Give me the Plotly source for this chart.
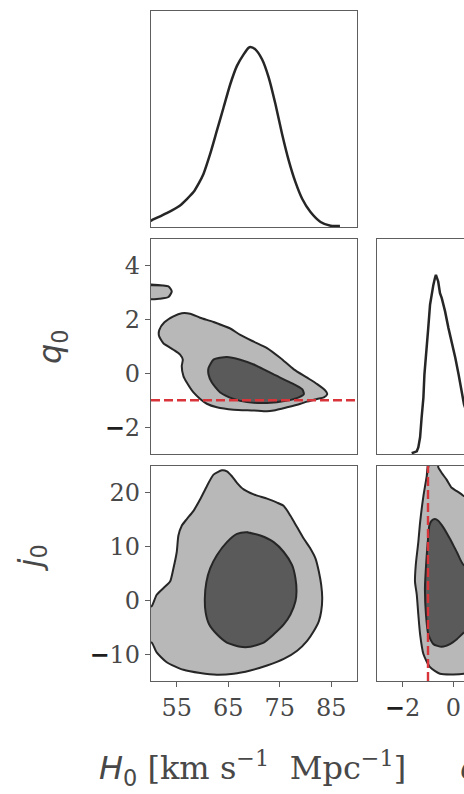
import plotly.graph_objects as go

W, H = 464, 794

# ---- reference values ----
q0_ref = -1.0

# ---- 1-D marginal of H0 (relative density) ----
h0_grid = [49.9, 50.13, 53.05, 55.65, 58.25, 59.22, 60.19, 61.49, 62.79, 64.09, 65.39,
           66.69, 67.99, 68.96, 69.29, 70.26, 71.56, 72.86, 74.16, 75.45, 76.75, 78.05,
           79.35, 80.97, 82.92, 84.87, 86.69]
h0_pdf = [0.033, 0.037, 0.077, 0.120, 0.194, 0.240, 0.295, 0.406, 0.535, 0.664, 0.793,
          0.895, 0.959, 0.996, 1.0, 0.987, 0.932, 0.830, 0.683, 0.517, 0.369, 0.249,
          0.157, 0.083, 0.028, 0.007, 0.006]

# ---- 1-D marginal of q0 (relative density) ----
q0_grid = [-1.64, -1.44, -1.38, -1.31, -1.25, -1.18, -1.14, -1.05, -0.99, -0.92, -0.86,
           -0.79, -0.73, -0.69, -0.60, -0.53, -0.46, -0.33, -0.20, -0.07, 0.07, 0.20,
           0.32, 0.41, 0.60]
q0_pdf = [0.004, 0.015, 0.037, 0.093, 0.204, 0.315, 0.444, 0.574, 0.704, 0.833, 0.889,
          0.944, 0.981, 1.0, 0.963, 0.898, 0.870, 0.796, 0.704, 0.630, 0.537, 0.444,
          0.352, 0.278, 0.20]

# ---- H0 - q0 credible regions ----
hq_outer_h0 = [62.14, 65.39, 67.34, 69.94, 72.53, 75.13,
               77.73, 80.32, 82.27, 83.90, 84.22, 83.57, 82.27, 80.32, 79.03, 76.43, 73.83,
               72.53, 69.94, 66.04, 62.79, 60.84, 59.55, 58.25, 56.95, 56.30, 55.97, 56.17,
               55.65, 54.35, 52.40, 51.55, 51.62, 52.60, 54.35, 55.97, 57.60, 59.55]
hq_outer_q0 = [1.91, 1.67, 1.43, 1.18, 0.94, 0.57,
               0.15, -0.16, -0.40, -0.65, -0.77, -0.89, -0.95, -1.05, -1.13, -1.26, -1.38,
               -1.41, -1.38, -1.35, -1.26, -1.13, -0.95, -0.71, -0.34, -0.10, 0.27, 0.51,
               0.70, 0.88, 1.12, 1.40, 1.62, 1.90, 2.12, 2.24, 2.22, 2.07]
hq_island_h0 = [49.0, 53.38, 54.03, 53.38, 51.75, 49.0]
hq_island_q0 = [3.28, 3.24, 3.05, 2.84, 2.78, 2.78]
hq_inner_h0 = [69.94, 73.83, 77.08, 79.35, 79.68, 78.70, 76.43,
               72.53, 68.64, 66.04, 63.44, 61.82, 61.17, 61.17, 62.14, 64.74, 67.34]
hq_inner_q0 = [0.33, -0.04, -0.34, -0.59, -0.77, -0.89, -1.01,
               -1.10, -1.07, -0.95, -0.71, -0.34, -0.04, 0.20, 0.51, 0.61, 0.51]

# ---- H0 - j0 credible regions ----
hj_outer_h0 = [49.7, 50.13, 51.10, 52.40, 53.70, 54.35, 55.00, 55.32, 55.97, 56.95, 58.25,
               59.55, 60.84, 62.14, 63.77, 64.74, 65.71, 66.69, 67.99, 69.94, 72.53, 74.48,
               75.78, 77.08, 78.38, 79.68, 80.97, 81.95, 82.60, 83.05, 83.25, 83.05, 82.60,
               81.62, 80.32, 78.38, 75.78, 72.53, 69.29, 66.04, 62.79, 59.55, 56.30, 53.05,
               51.10, 50.13, 49.7]
hj_outer_j0 = [-1.10, -1.10, 1.04, 2.27, 3.49, 5.94, 9.00, 12.06, 13.90, 15.13, 16.66,
               18.80, 21.25, 23.39, 24.19, 24.00, 23.09, 21.86, 20.64, 19.72, 18.92, 18.19,
               17.57, 15.74, 13.59, 11.45, 9.61, 7.78, 5.33, 2.88, 0.43, -2.02, -3.86,
               -5.70, -7.53, -9.37, -10.90, -12.12, -13.04, -13.66, -13.84, -13.53, -12.92, -11.51,
               -9.68, -7.84, -7.84]
hj_inner_h0 = [68.64, 71.23, 73.83, 75.78, 77.40,
               78.05, 78.25, 78.05, 77.08, 75.78, 73.83, 71.88, 69.29, 67.34, 64.74, 62.79,
               61.25, 60.60, 60.45, 60.75, 61.49, 62.79, 64.74, 66.69]
hj_inner_j0 = [12.68, 12.06, 10.84, 9.00, 6.55,
               4.10, 1.65, -0.18, -2.63, -4.47, -6.31, -7.84, -8.63, -8.63, -7.84, -6.31,
               -4.40, -2.20, 0.30, 3.40, 5.94, 8.39, 10.84, 12.37]

# ---- q0 - j0 credible regions ----
qj_outer_q0 = [-0.95, -1.05, -1.18, -1.31, -1.38, -1.44, -1.48, -1.51, -1.44, -1.38, -1.31,
               -1.18, -0.92, -0.53, 0.00, 0.41, 1.00, 1.00, 0.41, 0.32, 0.13, -0.07,
               -0.27, -0.46, -0.60, -0.58]
qj_outer_j0 = [26.0, 23.09, 19.41, 14.51, 10.84, 8.39, 6.55, 3.49, 1.04, -2.63, -6.31,
               -9.98, -12.43, -13.66, -13.78, -13.66, -13.0, 19.0, 19.41, 19.72, 20.33, 20.94,
               22.47, 23.70, 24.80, 26.0]
qj_inner_q0 = [1.00, 1.00, 0.41, 0.13, -0.14, -0.40, -0.60, -0.73, -0.86, -0.95, -0.99,
               -1.05, -1.12, -1.08, -0.99, -0.79, -0.46, -0.14, 0.13, 0.41]
qj_inner_j0 = [-5.0, 8.0, 6.55, 9.00, 11.45, 13.59, 14.82, 15.13, 14.82, 13.90, 12.06,
               8.39, 2.27, -2.63, -6.31, -8.14, -8.63, -8.14, -7.23, -6.00]

# ---- axes ticks ----
h0_ticks = [55, 65, 75, 85]
q0_ticks = [-2, 0, 2, 4]
q0_col_ticks = [-2, 0]
j0_ticks = [-10, 0, 10, 20]

# ---- style ----
LIGHT = "#b8b8b8"
DARK = "#5a5a5a"
EDGE = "#262626"
FRAME = "#5e5e5e"
TXT = "#484848"
RED = "#d8343a"
SERIF = "DejaVu Serif"
SANS = "DejaVu Sans"


def tick_label(v):
    if v < 0:
        return '<b><span style="color:#1e1e1e">\u2212</span></b>' + str(abs(v))
    return str(v)


def px_x(p):
    return p / W


def px_y(p):
    return 1 - p / H


fig = go.Figure()


def region(xs, ys, color, xa, ya):
    # wrap the outline past its first vertex so the spline closes smoothly
    xs = list(xs) + list(xs[:2])
    ys = list(ys) + list(ys[:2])
    fig.add_trace(go.Scatter(
        x=xs, y=ys, xaxis=xa, yaxis=ya, mode="lines", fill="toself",
        fillcolor=color, line=dict(color=EDGE, width=2, shape="spline", smoothing=0.6),
        hoverinfo="skip", showlegend=False))


# top marginal H0
fig.add_trace(go.Scatter(x=h0_grid, y=h0_pdf, xaxis="x", yaxis="y", mode="lines",
                         line=dict(color=EDGE, width=2.5, shape="spline", smoothing=0.6),
                         showlegend=False, hoverinfo="skip"))
# H0 - q0
region(hq_outer_h0, hq_outer_q0, LIGHT, "x2", "y2")
region(hq_island_h0, hq_island_q0, LIGHT, "x2", "y2")
region(hq_inner_h0, hq_inner_q0, DARK, "x2", "y2")
# H0 - j0
region(hj_outer_h0, hj_outer_j0, LIGHT, "x3", "y3")
region(hj_inner_h0, hj_inner_j0, DARK, "x3", "y3")
# q0 marginal
fig.add_trace(go.Scatter(x=q0_grid, y=q0_pdf, xaxis="x4", yaxis="y4", mode="lines",
                         line=dict(color=EDGE, width=2.5),
                         showlegend=False, hoverinfo="skip"))
# q0 - j0
region(qj_outer_q0, qj_outer_j0, LIGHT, "x5", "y5")
region(qj_inner_q0, qj_inner_j0, DARK, "x5", "y5")

col1 = [px_x(151), px_x(357)]
col2 = [px_x(377), 1.0]
row1 = [px_y(227), px_y(11)]
row2 = [px_y(454), px_y(239)]
row3 = [px_y(681), px_y(466)]

col2_range = [-3, -3 + 87 / 25.5]

base = dict(showgrid=False, zeroline=False, showline=True, linecolor=FRAME, linewidth=1.2,
            ticks="", showticklabels=False,
            tickfont=dict(family=SERIF, size=24, color=TXT), tickcolor=FRAME,
            ticklen=5, tickwidth=1)

fig.update_layout(
    width=W, height=H, margin=dict(l=0, r=0, t=0, b=0),
    paper_bgcolor="white", plot_bgcolor="white",
    xaxis=dict(base, domain=col1, range=[50, 90], mirror=True, anchor="y"),
    yaxis=dict(base, domain=row1, range=[0, 1.2], mirror=True, anchor="x"),
    xaxis2=dict(base, domain=col1, range=[50, 90], mirror=True, anchor="y2"),
    yaxis2=dict(base, domain=row2, range=[-3, 5], mirror=True, anchor="x2",
                ticks="outside", showticklabels=True, tickvals=q0_ticks,
                ticktext=[tick_label(v) for v in q0_ticks]),
    xaxis3=dict(base, domain=col1, range=[50, 90], mirror=True, anchor="y3",
                ticks="outside", showticklabels=True, tickvals=h0_ticks,
                ticktext=[tick_label(v) for v in h0_ticks]),
    yaxis3=dict(base, domain=row3, range=[-15, 25], mirror=True, anchor="x3",
                ticks="outside", showticklabels=True, tickvals=j0_ticks,
                ticktext=[tick_label(v) for v in j0_ticks]),
    xaxis4=dict(base, domain=col2, range=col2_range, mirror=True, anchor="y4"),
    yaxis4=dict(base, domain=row2, range=[0, 1.2], mirror=False, anchor="x4"),
    xaxis5=dict(base, domain=col2, range=col2_range, mirror=True, anchor="y5",
                ticks="outside", showticklabels=True, tickvals=q0_col_ticks,
                ticktext=[tick_label(v) for v in q0_col_ticks]),
    yaxis5=dict(base, domain=row3, range=[-15, 25], mirror=False, anchor="x5"),
)

# reference value lines
dash = dict(color=RED, width=2.4, dash="9px,4px")
fig.add_shape(type="line", xref="x2 domain", x0=0, x1=1, yref="y2", y0=q0_ref, y1=q0_ref,
              line=dash, layer="above")
fig.add_shape(type="line", yref="y5 domain", y0=0, y1=1, xref="x5", x0=q0_ref, x1=q0_ref,
              line=dash, layer="above")

# axis titles
fig.add_annotation(x=px_x(29), y=px_y(347), xref="paper", yref="paper", showarrow=False,
                   text="<i>q</i><sub>0</sub>", textangle=-90,
                   font=dict(family=SANS, size=32, color=TXT))
fig.add_annotation(x=px_x(8), y=px_y(574), xref="paper", yref="paper", showarrow=False,
                   text="<i>j</i><sub>0</sub>", textangle=-90,
                   font=dict(family=SANS, size=32, color=TXT))
fig.add_annotation(x=px_x(252), y=px_y(793), xref="paper", yref="paper", showarrow=False,
                   text='<span style="font-family:DejaVu Sans"><i>H</i><sub>0</sub></span>'
                        '\u00a0[km\u00a0s<sup>\u22121</sup>\u00a0\u00a0Mpc<sup>\u22121</sup>]',
                   font=dict(family=SERIF, size=32, color=TXT))
fig.add_annotation(x=px_x(458), y=px_y(793), xref="paper", yref="paper", showarrow=False,
                   xanchor="left", text="<i>q</i><sub>0</sub>",
                   font=dict(family=SANS, size=32, color=TXT))

fig.write_html("out.html")
